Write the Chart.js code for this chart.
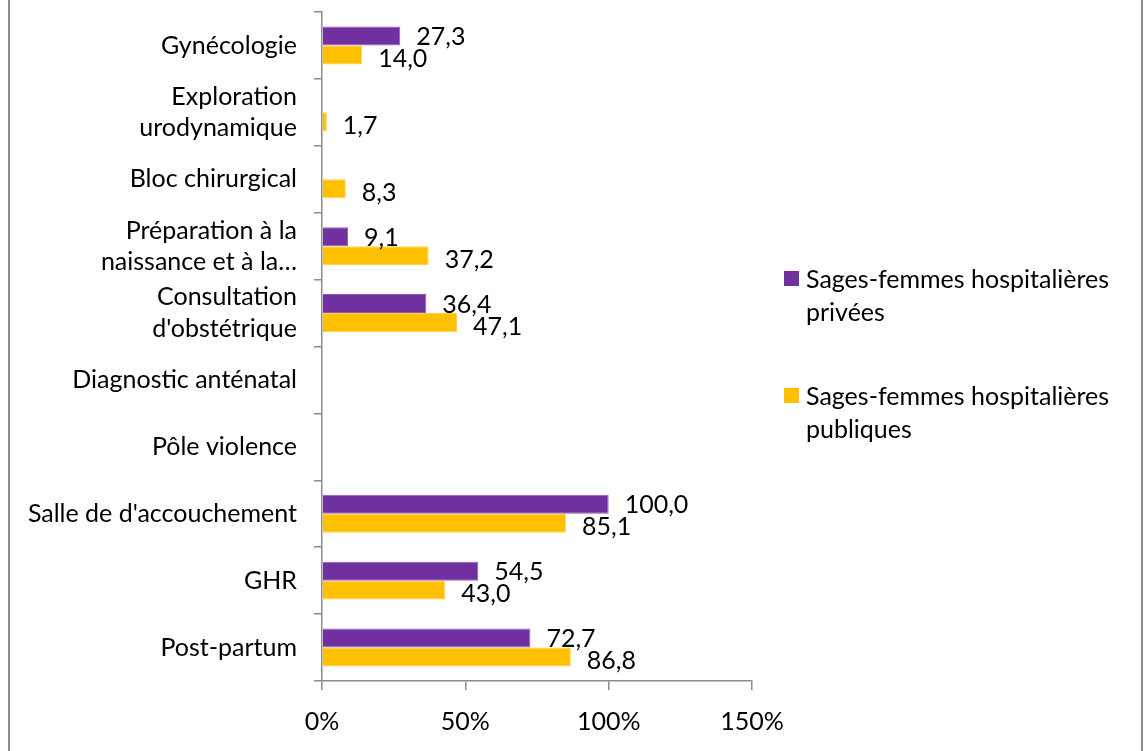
<!DOCTYPE html>
<html>
<head>
<meta charset="utf-8">
<script src="https://cdn.jsdelivr.net/npm/chart.js@4.4.1/dist/chart.umd.min.js"></script>
<style>
  html, body { margin: 0; padding: 0; background: #fff; }
  #wrap { position: relative; width: 1144px; height: 751px; overflow: hidden; }
  #c { position: absolute; left: 0; top: 0; }
  .frameL { position: absolute; left: 8px; top: 0; width: 2px; height: 751px; background: #8c8c8c; }
  .frameR { position: absolute; left: 1141px; top: 0; width: 2px; height: 751px; background: #8c8c8c; }
  .legend { position: absolute; left: 784px; font-family: Lato, "Open Sans", sans-serif; font-size: 25px; line-height: 33px; color: #000; }
  .legend .sw { position: absolute; left: 0; top: 9px; width: 15px; height: 15px; }
  .legend .tx { position: absolute; left: 22px; top: 0; white-space: nowrap; }
</style>
</head>
<body>
<div id="wrap">
  <canvas id="c" width="1144" height="751"></canvas>
  <div class="frameL"></div>
  <div class="frameR"></div>
  <div class="legend" id="leg1" style="top:262px"><div class="sw" style="background:#7030A0"></div><div class="tx">Sages-femmes hospitalières<br>privées</div></div>
  <div class="legend" id="leg2" style="top:379px"><div class="sw" style="background:#FFC000"></div><div class="tx">Sages-femmes hospitalières<br>publiques</div></div>
</div>
<script>
const categories = [
  "Gynécologie",
  ["Exploration", "urodynamique"],
  "Bloc chirurgical",
  ["Préparation à la", "naissance et à la…"],
  ["Consultation", "d'obstétrique"],
  "Diagnostic anténatal",
  "Pôle violence",
  "Salle de d'accouchement",
  "GHR",
  "Post-partum"
];
const seriesNames = ["Sages-femmes hospitalières privées", "Sages-femmes hospitalières publiques"];
const privees  = [27.3, null, null, 9.1, 36.4, null, null, 100.0, 54.5, 72.7];
const publiques = [14.0, 1.7, 8.3, 37.2, 47.1, null, null, 85.1, 43.0, 86.8];
const xTicks = [0, 50, 100, 150];

const FONT = "Lato, 'Open Sans', sans-serif";
const AXIS = "#8c8c8c";

const valueLabels = {
  id: 'valueLabels',
  afterDatasetsDraw(chart) {
    const ctx = chart.ctx;
    ctx.save();
    ctx.font = "25px " + FONT;
    ctx.fillStyle = "#000";
    ctx.textAlign = "left";
    ctx.textBaseline = "middle";
    chart.data.datasets.forEach((ds, di) => {
      const meta = chart.getDatasetMeta(di);
      meta.data.forEach((el, i) => {
        const v = ds.data[i];
        if (v === null || v === undefined) return;
        const txt = v.toFixed(1).replace('.', ',');
        ctx.fillText(txt, el.x + 16, el.y + (di === 0 ? 1 : 4));
      });
    });
    ctx.restore();
  }
};

new Chart(document.getElementById('c'), {
  type: 'bar',
  data: {
    labels: categories,
    datasets: [
      { label: seriesNames[0], data: privees, backgroundColor: '#7030A0', borderColor: '#8f5cb8', borderWidth: 1, borderSkipped: 'left' },
      { label: seriesNames[1], data: publiques, backgroundColor: '#FFC000', borderColor: '#ffd24d', borderWidth: 1, borderSkipped: 'left' }
    ]
  },
  options: {
    indexAxis: 'y',
    responsive: false,
    animation: false,
    events: [],
    datasets: { bar: { categoryPercentage: 0.567, barPercentage: 1.0 } },
    layout: { padding: { left: 0, top: 12, right: 392, bottom: 0 } },
    plugins: { legend: { display: false }, tooltip: { enabled: false } },
    scales: {
      x: {
        type: 'linear',
        min: 0, max: 150,
        afterBuildTicks(scale) { scale.ticks = xTicks.map(v => ({ value: v })); },
        afterFit(scale) { scale.height = 70; scale.paddingLeft = 0; scale.paddingRight = 0; },
        grid: { drawOnChartArea: false, drawTicks: true, tickLength: 9, color: AXIS, lineWidth: 1.5 },
        border: { color: AXIS, width: 1.5 },
        ticks: {
          padding: 17,
          color: '#000',
          font: { family: FONT, size: 25 },
          callback: v => v + '%'
        }
      },
      y: {
        afterFit(scale) { scale.width = 322; scale.paddingTop = 0; scale.paddingBottom = 0; },
        grid: { drawOnChartArea: false, drawTicks: true, tickLength: 8, color: AXIS, lineWidth: 1.5, offset: true },
        border: { color: AXIS, width: 1.5 },
        ticks: {
          padding: 17,
          color: '#000',
          font: { family: FONT, size: 25, lineHeight: 1.25 },
          autoSkip: false
        }
      }
    }
  },
  plugins: [valueLabels]
});
</script>
</body>
</html>
